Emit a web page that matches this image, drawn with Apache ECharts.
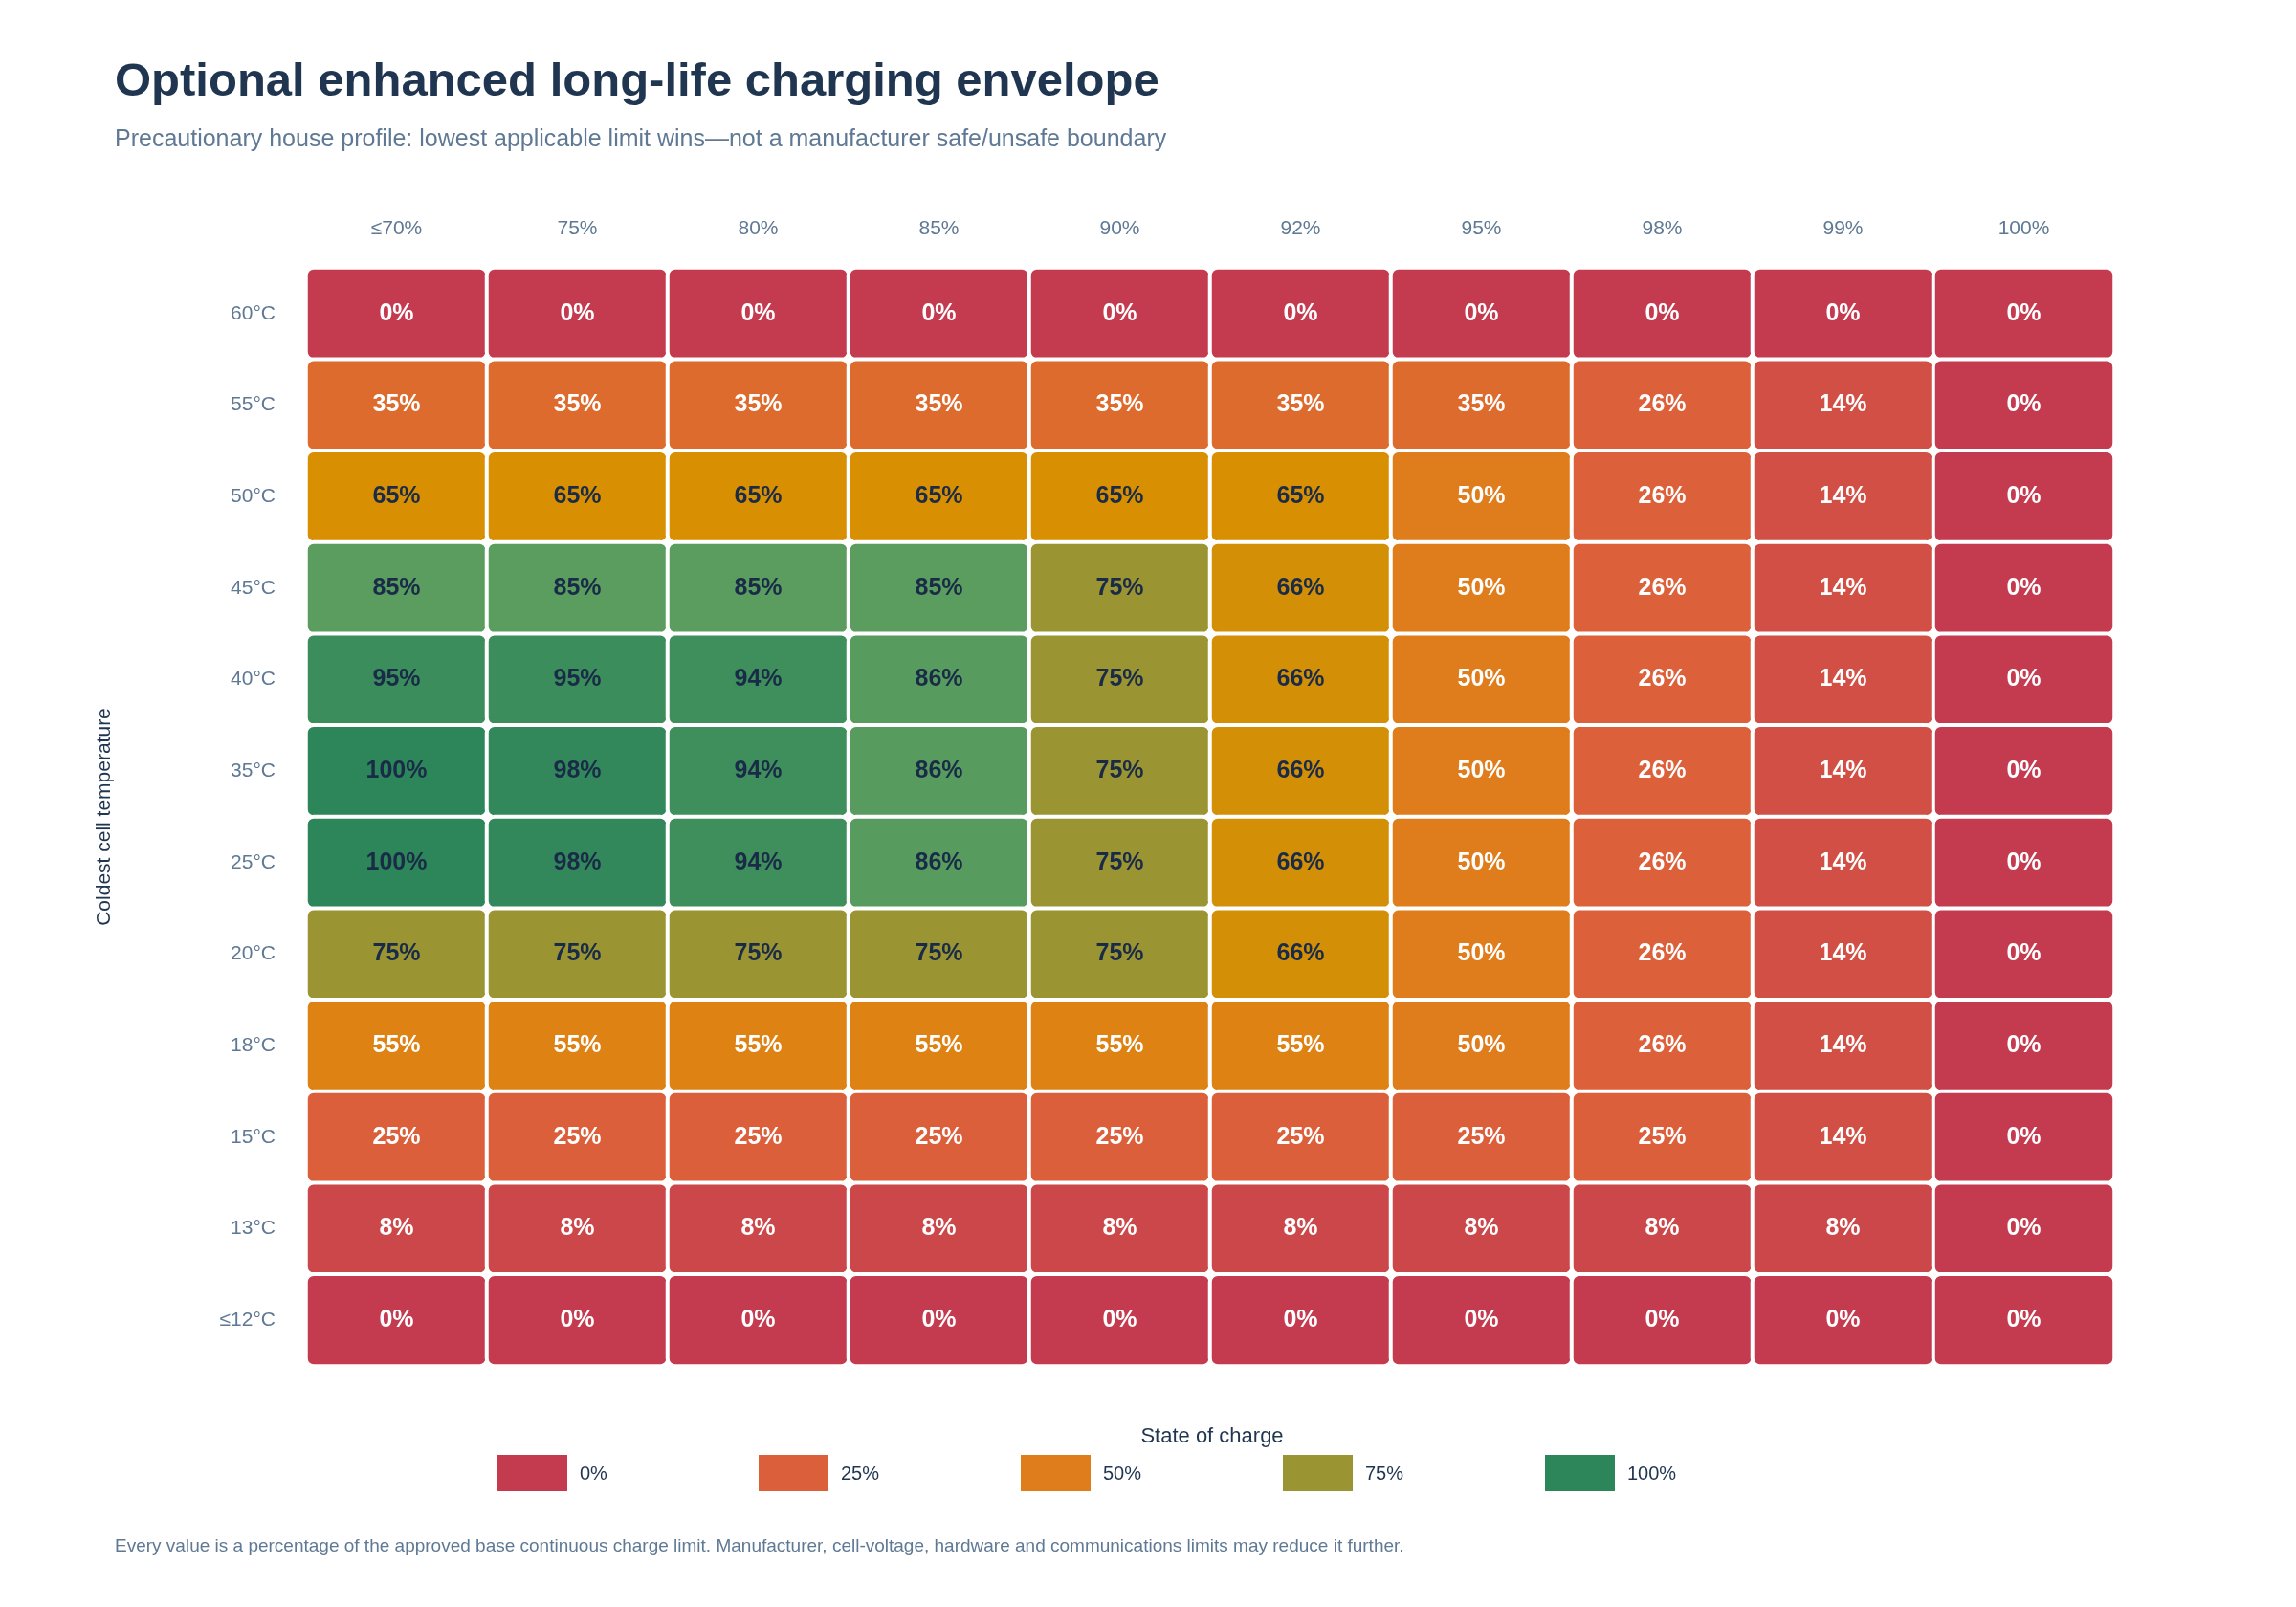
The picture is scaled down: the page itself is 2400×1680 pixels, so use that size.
<!DOCTYPE html>
<html><head><meta charset="utf-8">
<script src="https://cdn.jsdelivr.net/npm/echarts@6/dist/echarts.min.js"></script>
<style>html,body{margin:0;padding:0;background:#fff}#c{width:2400px;height:1680px}</style>
</head><body><div id="c"></div>
<script>
const socLabels = ['≤70%','75%','80%','85%','90%','92%','95%','98%','99%','100%'];
const tempLabels = ['60°C','55°C','50°C','45°C','40°C','35°C','25°C','20°C','18°C','15°C','13°C','≤12°C'];
const row60 = [0,0,0,0,0,0,0,0,0,0];
const row55 = [35,35,35,35,35,35,35,26,14,0];
const row50 = [65,65,65,65,65,65,50,26,14,0];
const row45 = [85,85,85,85,75,66,50,26,14,0];
const row40 = [95,95,94,86,75,66,50,26,14,0];
const row35 = [100,98,94,86,75,66,50,26,14,0];
const row25 = [100,98,94,86,75,66,50,26,14,0];
const row20 = [75,75,75,75,75,66,50,26,14,0];
const row18 = [55,55,55,55,55,55,50,26,14,0];
const row15 = [25,25,25,25,25,25,25,25,14,0];
const row13 = [8,8,8,8,8,8,8,8,8,0];
const row12 = [0,0,0,0,0,0,0,0,0,0];
const rows = [row60,row55,row50,row45,row40,row35,row25,row20,row18,row15,row13,row12];
const legendValues = [0,25,50,75,100];

const stops = [[0,[196,59,80]],[25,[220,95,59]],[50,[223,124,27]],[65,[217,143,2]],[75,[155,148,50]],[85,[90,157,95]],[100,[45,133,90]]];
function colorFor(v){
  for(let i=1;i<stops.length;i++){
    if(v<=stops[i][0]){
      const a=stops[i-1],b=stops[i],t=(v-a[0])/(b[0]-a[0]);
      const c=a[1].map((x,k)=>Math.round(x+(b[1][k]-x)*t));
      return 'rgb('+c.join(',')+')';
    }
  }
  return 'rgb(45,133,90)';
}
const data=[];
rows.forEach((r,yi)=>r.forEach((v,xi)=>{
  data.push({value:[xi,tempLabels.length-1-yi,v],itemStyle:{color:colorFor(v)},
    label:{color: v>=60?'#1a2b48':'#ffffff'}});
}));
const yCats = tempLabels.slice().reverse();

const graphics=[
 {type:'text',left:120,top:62,style:{text:'Optional enhanced long-life charging envelope',font:'bold 49px Liberation Sans, Arial',fill:'#1f3550'}},
 {type:'text',left:120,top:134,style:{text:'Precautionary house profile: lowest applicable limit wins—not a manufacturer safe/unsafe boundary',font:'25px Liberation Sans, Arial',fill:'#5f7995'}},
 {type:'text',left:120,top:1607,style:{text:'Every value is a percentage of the approved base continuous charge limit. Manufacturer, cell-voltage, hardware and communications limits may reduce it further.',font:'19px Liberation Sans, Arial',fill:'#5f7995'}},
 {type:'text',x:1267,y:1502,style:{text:'State of charge',font:'22px Liberation Sans, Arial',fill:'#1f3550',align:'center',verticalAlign:'middle'}}
];
const lx=[520,793,1067,1341,1615];
legendValues.forEach((v,i)=>{
  graphics.push({type:'rect',shape:{x:lx[i],y:1521,width:73,height:38},style:{fill:colorFor(v)}});
  graphics.push({type:'text',x:lx[i]+86,y:1541,style:{text:v+'%',font:'20px Liberation Sans, Arial',fill:'#1f3550',verticalAlign:'middle'}});
});

const chart=echarts.init(document.getElementById('c'));
chart.setOption({
  backgroundColor:'#fff',
  animation:false,
  graphic:graphics,
  grid:{left:320,right:190,top:280,bottom:252},
  xAxis:{type:'category',data:socLabels,position:'top',axisLine:{show:false},axisTick:{show:false},splitLine:{show:false},
    axisLabel:{color:'#5f7995',fontSize:21,margin:30,fontFamily:'Liberation Sans'}},
  yAxis:{type:'category',data:yCats,axisLine:{show:false},axisTick:{show:false},
    name:'Coldest cell temperature',nameLocation:'middle',nameGap:200,nameRotate:90,
    nameTextStyle:{color:'#1f3550',fontSize:21,fontFamily:'Liberation Sans'},
    axisLabel:{color:'#5f7995',fontSize:21,margin:32,fontFamily:'Liberation Sans'}},
  series:[{type:'heatmap',data:data,
    itemStyle:{borderColor:'#fff',borderWidth:4,borderRadius:8},
    label:{show:true,formatter:p=>p.value[2]+'%',fontSize:25,fontWeight:'bold',fontFamily:'Liberation Sans'}}]
});
</script></body></html>
